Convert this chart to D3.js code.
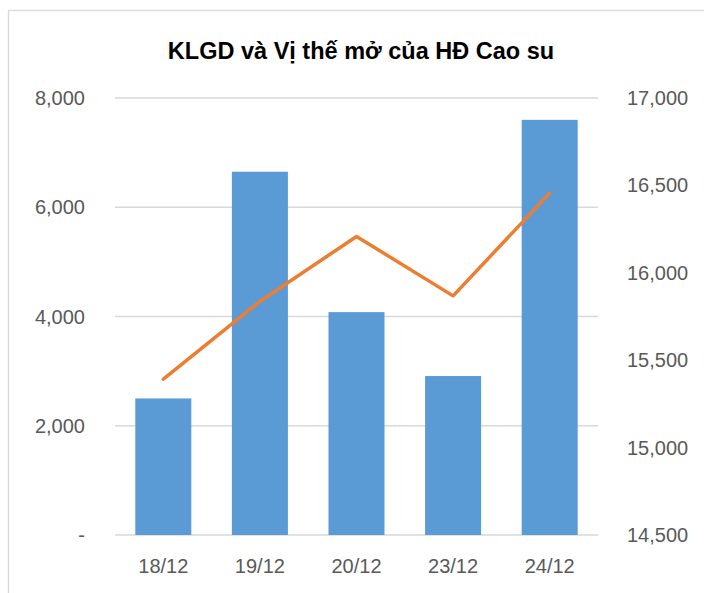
<!DOCTYPE html>
<html>
<head>
<meta charset="utf-8">
<script src="https://cdn.jsdelivr.net/npm/d3@7"></script>
<style>
  body { margin: 0; background: #fff; }
  text { font-family: "Liberation Sans", Arial, sans-serif; }
</style>
</head>
<body>
<div id="chart"></div>
<script>
const categories = ['18/12', '19/12', '20/12', '23/12', '24/12'];
const klgd = [2500, 6650, 4080, 2910, 7600];
const openInterest = [15392, 15836, 16208, 15868, 16456];
const leftTicks = [0, 2000, 4000, 6000, 8000];
const rightTicks = [14500, 15000, 15500, 16000, 16500, 17000];

const width = 704, height = 593;
const plot = { left: 115, right: 598, top: 98, bottom: 535 };

const svg = d3.select('#chart')
  .append('svg')
  .attr('width', width)
  .attr('height', height);

// chart frame
svg.append('rect')
  .attr('x', 8.5).attr('y', 10.5)
  .attr('width', 720).attr('height', 620)
  .attr('fill', 'none')
  .attr('stroke', '#d9d9d9')
  .attr('stroke-width', 1.3);

svg.append('text')
  .attr('x', 361).attr('y', 59)
  .attr('text-anchor', 'middle')
  .attr('font-size', 23.5)
  .attr('font-weight', 'bold')
  .attr('fill', '#000')
  .text('KLGD và Vị thế mở của HĐ Cao su');

const x = d3.scaleBand()
  .domain(categories)
  .range([plot.left, plot.right])
  .paddingInner(0.42)
  .paddingOuter(0.21);

const yLeft = d3.scaleLinear().domain([0, 8000]).range([plot.bottom, plot.top]);
const yRight = d3.scaleLinear().domain([14500, 17000]).range([plot.bottom, plot.top]);

// gridlines
svg.append('g')
  .selectAll('line')
  .data(leftTicks)
  .enter()
  .append('line')
  .attr('x1', plot.left).attr('x2', plot.right)
  .attr('y1', d => yLeft(d)).attr('y2', d => yLeft(d))
  .attr('stroke', '#d9d9d9')
  .attr('stroke-width', 1.3);

// left axis labels
const fmt = d3.format(',');
svg.append('g')
  .selectAll('text')
  .data(leftTicks)
  .enter()
  .append('text')
  .attr('x', 85)
  .attr('y', d => yLeft(d) + 7)
  .attr('text-anchor', 'end')
  .attr('font-size', 20)
  .attr('fill', '#595959')
  .text(d => d === 0 ? '-' : fmt(d));

// right axis labels
svg.append('g')
  .selectAll('text')
  .data(rightTicks)
  .enter()
  .append('text')
  .attr('x', 627)
  .attr('y', d => yRight(d) + 7)
  .attr('text-anchor', 'start')
  .attr('font-size', 20)
  .attr('fill', '#595959')
  .text(d => fmt(d));

// bars
svg.append('g')
  .selectAll('rect')
  .data(klgd)
  .enter()
  .append('rect')
  .attr('x', (d, i) => x(categories[i]))
  .attr('y', d => yLeft(d))
  .attr('width', x.bandwidth())
  .attr('height', d => yLeft(0) - yLeft(d))
  .attr('fill', '#5b9bd5');

// category labels
svg.append('g')
  .selectAll('text')
  .data(categories)
  .enter()
  .append('text')
  .attr('x', d => x(d) + x.bandwidth() / 2)
  .attr('y', 573)
  .attr('text-anchor', 'middle')
  .attr('font-size', 20)
  .attr('fill', '#595959')
  .text(d => d);

// open interest line
const line = d3.line()
  .x((d, i) => x(categories[i]) + x.bandwidth() / 2)
  .y(d => yRight(d));

svg.append('path')
  .datum(openInterest)
  .attr('d', line)
  .attr('fill', 'none')
  .attr('stroke', '#ed7d31')
  .attr('stroke-width', 3.5)
  .attr('stroke-linecap', 'round')
  .attr('stroke-linejoin', 'round');
</script>
</body>
</html>
